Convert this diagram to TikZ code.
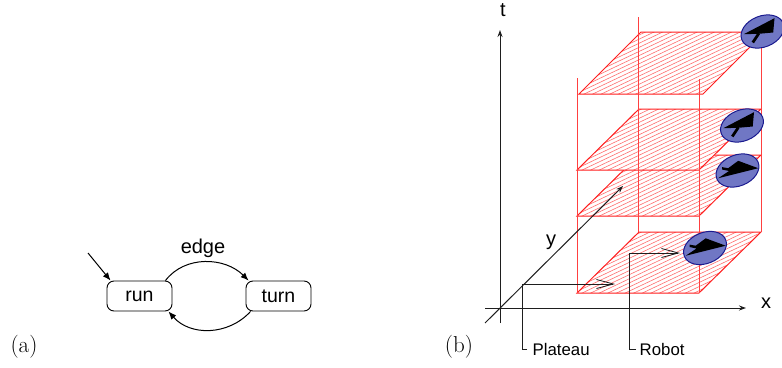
\documentclass[tikz,border=0pt]{standalone}
\usepackage{fontspec}
\setsansfont{Liberation Sans}
\usetikzlibrary{arrows.meta,shapes.geometric}
\definecolor{hatchred}{RGB}{255,110,110}
\definecolor{planered}{RGB}{255,30,30}
\definecolor{robotfill}{RGB}{112,119,196}
\definecolor{robotedge}{RGB}{26,26,143}
\definecolor{axisgray}{RGB}{30,30,30}
\newcommand{\plane}[5]{%
  \fill[white] (#1,#2) -- (#3,#2) -- (#4,#5) -- (#4-#3+#1,#5) -- cycle;
  \begin{scope}
    \clip (#1,#2) -- (#3,#2) -- (#4,#5) -- (#4-#3+#1,#5) -- cycle;
    \foreach \k in {-20,...,90}
      \draw[hatchline] (#1-10,#2+40-\k*4.1) -- (#4+10,#2+40-\k*4.1-0.5*#4-5+0.5*#1);
  \end{scope}
  \draw[planeline] (#1,#2) -- (#3,#2) -- (#4,#5) -- (#4-#3+#1,#5) -- cycle;
}
\newcommand{\robotup}[3]{%
  \node[robotdisc] (#3) at (#1,#2) {};
  \begin{scope}[shift={(#1,#2)}]
    \fill[black] (12,-13.3) -- (10.7,1) -- (-3.7,2.3) -- (-18.7,2.7) -- cycle;
    \draw[black,line width=2.8pt] (-3.7,2) -- (-9.7,11);
  \end{scope}
}
\newcommand{\robotright}[3]{%
  \node[robotdisc] (#3) at (#1,#2) {};
  \begin{scope}[shift={(#1,#2)}]
    \fill[black] (20.7,-2.3) -- (0.7,-9.7) -- (-9.3,-2.3) -- (-15.5,-3.4) -- (-15.5,-1) -- (-8.5,0.5) -- (-19.3,7.7) -- cycle;
  \end{scope}
}
\tikzset{
  x=1pt,y=-1pt,
  hatchline/.style={hatchred,line width=0.6pt},
  planeline/.style={planered,line width=1pt},
  postline/.style={planered!85!white,line width=1pt},
  axis/.style={axisgray,line width=1pt,-{Stealth[length=7pt,width=5pt]}},
  leader/.style={axisgray,line width=1pt},
  barbed/.style={axisgray,line width=1pt,-{Straight Barb[length=17pt,width=9pt,line width=0.8pt]}},
  state/.style={draw,rounded corners=7pt,minimum width=65pt,minimum height=30pt,inner sep=0pt,font=\sffamily\fontsize{19.5}{20}\selectfont,line width=0.9pt},
  edgeline/.style={black,line width=1pt,-{Latex[length=8pt,width=6.5pt]}},
  sflabel/.style={font=\sffamily\fontsize{20}{20}\selectfont,inner sep=0pt},
  small/.style={font=\sffamily\fontsize{16.8}{18}\selectfont,inner sep=0pt,anchor=west},
  caption/.style={font=\fontsize{23}{24}\selectfont,inner sep=0pt},
  robotdisc/.style={ellipse,draw=robotedge,fill=robotfill,line width=1pt,minimum width=44.5pt,minimum height=31pt,inner sep=0pt,rotate=22},
}
\begin{document}
\begin{tikzpicture}
\useasboundingbox (0,0) rectangle (782,367);
% (a)
\node[state] (run) at (139.5,296) {run};
\node[state] (turn) at (278.5,296) {turn};
\coordinate (init) at (88,253);
\draw[edgeline] (init) -- ([xshift=4pt]run.north west);
\draw[edgeline] ([xshift=-7pt]run.north east) .. controls (185,255) and (225,257) .. ([xshift=3pt]turn.north west);
\draw[edgeline] ([xshift=5pt]turn.south west) .. controls (228,336) and (190,336) .. ([xshift=-4pt]run.south east);
\node[sflabel] (edgelabel) at (203,248) {edge};
\node[caption] (capa) at (24,347) {(a)};
% (b) planes and posts
\plane{577}{293}{699}{761}{232}
\plane{577}{216}{699}{761}{155}
\plane{577}{170}{699}{761}{109}
\plane{579}{94}{703}{765}{32}
\draw[postline] (577,78) -- (577,293);
\draw[postline] (638,17) -- (638,232);
\draw[postline] (699,79) -- (699,293);
\draw[postline] (761,47) -- (761,232);
% axes
\coordinate (ttip) at (500,30);
\coordinate (tbase) at (500,323);
\coordinate (xbase) at (485,308);
\coordinate (xtip) at (746,308);
\coordinate (ybase) at (485,323);
\coordinate (ytip) at (623,186);
\draw[axis] (tbase) -- (ttip);
\draw[axis] (xbase) -- (xtip);
\draw[axis] (ybase) -- (ytip);
\node[sflabel] (tlabel) at (503,10) {t};
\node[sflabel] (xlabel) at (766,303) {x};
\node[sflabel] (ylabel) at (551,242) {y};
\node[caption] (capb) at (459,347) {(b)};
% robots
\robotup{762.5}{31.5}{r1}
\robotup{742}{125.5}{r2}
\robotright{737.5}{170.5}{r3}
\robotright{705}{248}{r4}
% leaders
\node[small] (plateau) at (532.5,349) {Plateau};
\node[small] (robot) at (639.5,349) {Robot};
\coordinate (pcorner) at (522,284);
\coordinate (ptip) at (615,284);
\coordinate (rcorner) at (629,253);
\coordinate (rtip) at (680,253);
\draw[leader] ([xshift=-5.5pt]plateau.west) -- ++(-5,0) -- (pcorner);
\draw[barbed] (pcorner) -- (ptip);
\draw[leader] ([xshift=-3.5pt]robot.west) -- ++(-7,0) -- (rcorner);
\draw[barbed] (rcorner) -- (rtip);
\end{tikzpicture}
\end{document}
